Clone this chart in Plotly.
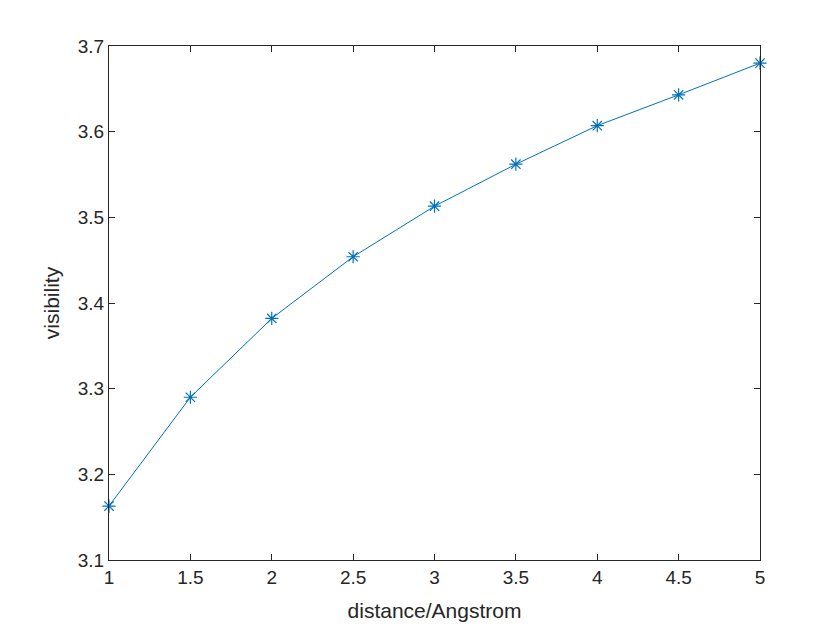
import plotly.graph_objects as go

distance = [1, 1.5, 2, 2.5, 3, 3.5, 4, 4.5, 5]
visibility = [3.163, 3.290, 3.382, 3.454, 3.513, 3.562, 3.607, 3.643, 3.680]

x_ticks = [1, 1.5, 2, 2.5, 3, 3.5, 4, 4.5, 5]
y_ticks = [3.1, 3.2, 3.3, 3.4, 3.5, 3.6, 3.7]

fig = go.Figure()
fig.add_trace(
    go.Scatter(
        x=distance,
        y=visibility,
        mode='lines+markers',
        line=dict(color='#0072BD', width=1),
        marker=dict(symbol='asterisk-open', size=11, color='#0072BD',
                    line=dict(color='#0072BD', width=1.2)),
        cliponaxis=False,
        showlegend=False,
    )
)

axis_style = dict(
    showline=True,
    linecolor='#262626',
    linewidth=1,
    mirror='ticks',
    ticks='inside',
    ticklen=6,
    tickcolor='#262626',
    showgrid=False,
    zeroline=False,
    tickfont=dict(family='Arial, Liberation Sans', size=19, color='#262626'),
    title_font=dict(family='Arial, Liberation Sans', size=21, color='#262626'),
)

fig.update_xaxes(
    range=[1, 5],
    tickvals=x_ticks,
    ticktext=[f'{v:g}' for v in x_ticks],
    title_text='distance/Angstrom',
    title_standoff=16,
    **axis_style,
)
fig.update_yaxes(
    range=[3.1, 3.7],
    tickvals=y_ticks,
    ticktext=[f'{v:g}' for v in y_ticks],
    title_text='visibility',
    title_standoff=12,
    **axis_style,
)

# page body adds an 8px offset, margins compensate for it
fig.update_layout(
    width=840,
    height=630,
    plot_bgcolor='white',
    paper_bgcolor='white',
    margin=dict(l=101, r=88, t=38, b=78),
)

fig.write_html("out.html")
